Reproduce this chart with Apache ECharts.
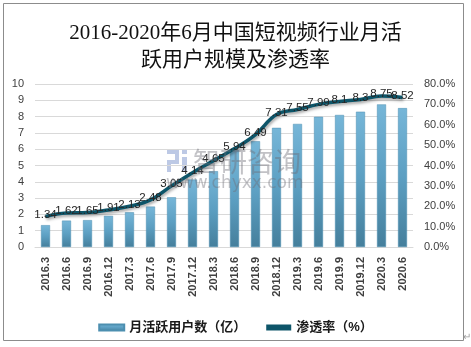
<!DOCTYPE html>
<html>
<head>
<meta charset="utf-8">
<script src="https://cdn.jsdelivr.net/npm/echarts@6/dist/echarts.min.js"></script>
<style>
  html, body { margin: 0; padding: 0; background: #ffffff; }
  #chart { width: 471px; height: 347px; }
</style>
</head>
<body>
<div id="chart"></div>
<script>
// 2016-2020年6月中国短视频行业月活跃用户规模及渗透率
const periods = ['2016.3', '2016.6', '2016.9', '2016.12', '2017.3', '2017.6', '2017.9', '2017.12', '2018.3',
  '2018.6', '2018.9', '2018.12', '2019.3', '2019.6', '2019.9', '2019.12', '2020.3', '2020.6'];
// 月活跃用户数（亿）
const activeUsers = [1.34, 1.62, 1.65, 1.91, 2.13, 2.48, 3.05, 4.14, 4.65, 5.94, 6.49, 7.31, 7.55, 7.99, 8.1, 8.3, 8.75, 8.52];
// 渗透率（小数）
const penetration = [0.150, 0.167, 0.169, 0.182, 0.200, 0.231, 0.300, 0.365, 0.424, 0.483, 0.552, 0.650, 0.675, 0.700, 0.714, 0.724, 0.741, 0.734];
const leftTicks = { min: 0, max: 10, step: 1 };
const rightTicks = { min: 0, max: 0.8, step: 0.1 };

const chart = echarts.init(document.getElementById('chart'));

const sansFont = "'Liberation Sans', Arial, 'Noto Sans CJK SC', sans-serif";
const titleFont = "'Liberation Serif', 'DejaVu Serif', 'Noto Sans CJK SC', serif";
const lineColor = '#0d5569';

chart.setOption({
  backgroundColor: '#ffffff',
  animation: false,
  title: {
    text: '2016-2020年6月中国短视频行业月活\n跃用户规模及渗透率',
    left: 'center',
    top: 15,
    textStyle: {
      fontFamily: titleFont,
      fontSize: 21,
      fontWeight: 'normal',
      color: '#111111',
      lineHeight: 27
    }
  },
  legend: {
    left: 'center',
    top: 316,
    itemWidth: 25,
    itemHeight: 6,
    itemGap: 20,
    textStyle: {
      fontFamily: sansFont,
      fontSize: 13,
      fontWeight: 'bold',
      color: '#1a1a1a'
    },
    data: [
      { name: '月活跃用户数（亿）', icon: 'rect' },
      { name: '渗透率（%）', icon: 'rect', itemStyle: { color: lineColor, opacity: 1 } }
    ]
  },
  grid: { left: 35, right: 58, top: 84, bottom: 100 },
  xAxis: {
    type: 'category',
    data: periods,
    axisLine: { show: true, lineStyle: { color: '#d9d9d9' } },
    axisTick: { show: false },
    axisLabel: {
      rotate: 90,
      margin: 10,
      fontFamily: sansFont,
      fontSize: 11,
      fontWeight: 'bold',
      color: '#404040',
      interval: 0
    }
  },
  yAxis: [
    {
      type: 'value',
      min: leftTicks.min,
      max: leftTicks.max,
      interval: leftTicks.step,
      axisLine: { show: false },
      axisTick: { show: false },
      axisLabel: { fontFamily: sansFont, fontSize: 11, color: '#404040', margin: 11 },
      splitLine: { lineStyle: { color: '#d9d9d9', width: 1 } }
    },
    {
      type: 'value',
      min: rightTicks.min,
      max: rightTicks.max,
      interval: rightTicks.step,
      axisLine: { show: false },
      axisTick: { show: false },
      splitLine: { show: false },
      axisLabel: {
        fontFamily: sansFont,
        fontSize: 11,
        color: '#404040',
        margin: 11,
        formatter: v => (v * 100).toFixed(1) + '%'
      }
    }
  ],
  series: [
    {
      name: '月活跃用户数（亿）',
      type: 'bar',
      yAxisIndex: 0,
      barWidth: 9,
      data: activeUsers,
      itemStyle: {
        color: new echarts.graphic.LinearGradient(0, 0, 0, 1, [
          { offset: 0, color: '#76b6d8' },
          { offset: 0.5, color: '#5c9fc2' },
          { offset: 1, color: '#457f9c' }
        ]),
        borderColor: '#4d8fb0',
        borderWidth: 0.5
      }
    },
    {
      name: '渗透率（%）',
      type: 'line',
      yAxisIndex: 1,
      smooth: 0.4,
      symbol: 'circle',
      symbolSize: 0.1,
      showSymbol: true,
      data: penetration,
      z: 5,
      lineStyle: {
        color: lineColor,
        width: 3.5,
        shadowColor: 'rgba(0,0,0,0.35)',
        shadowBlur: 3,
        shadowOffsetX: 1,
        shadowOffsetY: 2
      },
      itemStyle: { color: lineColor, opacity: 0 },
      label: {
        show: true,
        position: 'top',
        distance: -4,
        fontFamily: sansFont,
        fontSize: 11.5,
        color: '#262626',
        opacity: 1,
        formatter: p => String(activeUsers[p.dataIndex])
      },
      labelLayout: { hideOverlap: false }
    }
  ],
  graphic: [
    {
      type: 'rect',
      shape: { x: 3.5, y: 3.5, width: 460, height: 337 },
      style: { fill: 'none', stroke: '#8c8c8c', lineWidth: 1 },
      silent: true
    },
    {
      type: 'text',
      left: 463,
      top: 332,
      style: { text: '↵', fontSize: 10, fill: '#a0a0a0', fontFamily: sansFont },
      silent: true
    },
    {
      type: 'group',
      left: 167,
      top: 150,
      z: 20,
      silent: true,
      children: [
        { type: 'rect', shape: { x: 0, y: 0, width: 12, height: 4 }, style: { fill: 'rgba(90,120,190,0.4)' } },
        { type: 'rect', shape: { x: 8, y: 4, width: 4, height: 6 }, style: { fill: 'rgba(90,120,190,0.4)' } },
        { type: 'rect', shape: { x: 0, y: 10, width: 12, height: 4 }, style: { fill: 'rgba(90,120,190,0.4)' } },
        { type: 'rect', shape: { x: 0, y: 14, width: 4, height: 8 }, style: { fill: 'rgba(90,120,190,0.4)' } },
        { type: 'rect', shape: { x: 15, y: 0, width: 5, height: 4 }, style: { fill: 'rgba(90,120,190,0.4)' } },
        { type: 'rect', shape: { x: 15, y: 7, width: 5, height: 15 }, style: { fill: 'rgba(90,120,190,0.4)' } }
      ]
    },
    {
      type: 'text',
      left: 193,
      top: 148,
      z: 20,
      silent: true,
      style: {
        text: '智研咨询',
        fontFamily: "'Noto Sans CJK SC', sans-serif",
        fontSize: 27,
        fill: 'rgba(110,110,120,0.42)'
      }
    },
    {
      type: 'text',
      left: 166,
      top: 175,
      z: 20,
      silent: true,
      style: {
        text: 'www.chyxx.com',
        fontFamily: "'DejaVu Sans', sans-serif",
        fontSize: 17,
        fill: 'rgba(110,110,120,0.42)'
      }
    }
  ]
});
</script>
</body>
</html>
